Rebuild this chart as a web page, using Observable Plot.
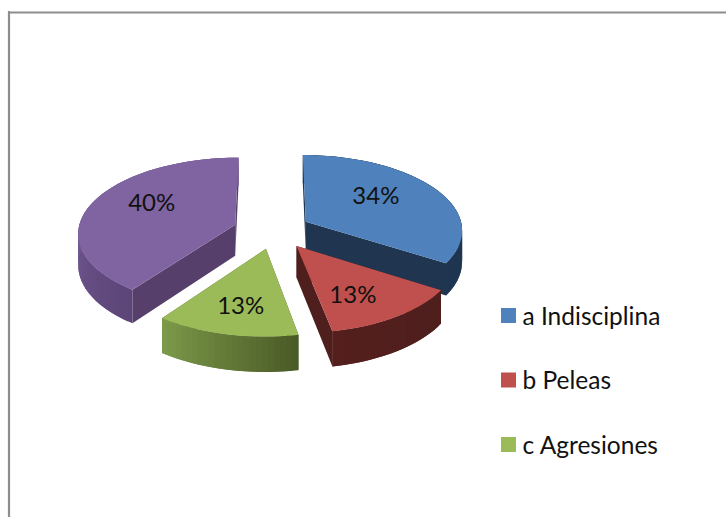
<!DOCTYPE html>
<html>
<head>
<meta charset="utf-8">
<script src="https://cdn.jsdelivr.net/npm/d3@7"></script>
<script src="https://cdn.jsdelivr.net/npm/@observablehq/plot@0.6"></script>
<style>
html,body{margin:0;padding:0;background:#fff;overflow:hidden}
svg{display:block}
</style>
</head>
<body>
<div id="chart"></div>
<script>
// Data
const values = [34, 13, 13, 40];
const legendNames = ["a Indisciplina", "b Peleas", "c Agresiones"];

// Styles
const topColors = ["#4f81bd", "#c0504d", "#9bbb59", "#8064a2"];
const innerColors = ["#1f3550", "#4e1f1d", "#4e5d2a", "#573f6c"];
const wallFrom = ["#1f3550", "#4e1f1d", "#4b5b27", "#5c4577"];
const wallTo = ["#1f3550", "#541f1d", "#7e9c4b", "#715791"];
const font = "Lato, 'Open Sans', sans-serif";

// Projection of the tilted disc
const W = 726, H = 517;
const cx = 272, cy = 230, rx = 157, ry = 75, persp = 0.10, depth = 31, explode = 0.245;
const sliceShiftX = [0, 2, 2, -1];
const labelR = [0.55, 0.68, 0.68, 0.62], labelDy = [-7, 3, 1, -8], labelDx = [-2, -8, 3, 5];

function project(U, V, down = 0) {
  const s = 1 / (1 + persp * V);
  return {x: cx + rx * U * s, y: cy - ry * V * s + down * s};
}

const slices = d3.pie().sort(null)(values);
const polys = [];
let pid = 0;
function addPoly(pts, color, shift) {
  const id = pid++;
  for (const p of pts) polys.push({x: p.x + shift, y: p.y, id, color});
}

const labelPoints = [];
// paint back to front: blue, purple, red, green
const drawOrder = [0, 3, 1, 2];
for (const i of drawOrder) {
  const sl = slices[i];
  const mid = (sl.startAngle + sl.endAngle) / 2;
  const ox = explode * Math.sin(mid), oy = explode * Math.cos(mid);
  const pt = (a, r, d = 0) => project(ox + r * Math.sin(a), oy + r * Math.cos(a), d);
  const sx = sliceShiftX[i];
  // radial walls
  for (const a of [sl.startAngle, sl.endAngle]) {
    addPoly([pt(a, 0), pt(a, 1), pt(a, 1, depth), pt(a, 0, depth)], innerColors[i], sx);
  }
  // outer wall, in small shaded overlapping segments
  const span = sl.endAngle - sl.startAngle;
  const n = Math.max(4, Math.ceil(span / (Math.PI / 90)));
  const f0 = Math.max(sl.startAngle, Math.PI / 2), f1 = Math.min(sl.endAngle, 1.5 * Math.PI);
  const shade = d3.interpolateRgb(wallFrom[i], wallTo[i]);
  for (let k = 0; k < n; k++) {
    const a0 = sl.startAngle + span * k / n;
    const a1 = Math.min(sl.endAngle, sl.startAngle + span * (k + 2) / n);
    const t = Math.max(0, Math.min(1, (a0 - f0) / Math.max(1e-6, f1 - f0)));
    addPoly([pt(a0, 1), pt(a1, 1), pt(a1, 1, depth), pt(a0, 1, depth)], shade(t), sx);
  }
  // top face
  const arc = [pt(sl.startAngle, 0)];
  for (let k = 0; k <= n; k++) arc.push(pt(sl.startAngle + span * k / n, 1));
  addPoly(arc, topColors[i], sx);
  // label anchor
  const lp = pt(mid, labelR[i]);
  labelPoints.push({x: lp.x + labelDx[i], y: lp.y + labelDy[i], text: values[i] + "%"});
}

// Legend layout
const legendX = 501, legendTop = 308, legendStep = 64.5, swatch = 15, legendTextX = 522;
const legendRows = legendNames.map((name, i) => ({
  name, color: topColors[i],
  x1: legendX, x2: legendX + swatch,
  y1: legendTop + i * legendStep, y2: legendTop + i * legendStep + swatch,
  ty: legendTop + i * legendStep + swatch / 2 + 1
}));

const chart = Plot.plot({
  width: W, height: H,
  margin: 0,
  x: {domain: [0, W], range: [0, W], axis: null},
  y: {domain: [0, H], range: [0, H], axis: null},
  color: {type: "identity"},
  style: {background: "#fff"},
  marks: [
    Plot.ruleX([8.5], {y1: 11, y2: H, stroke: "#8e8e8e", strokeWidth: 2.2}),
    Plot.ruleY([12], {x1: 8, x2: W, stroke: "#8e8e8e", strokeWidth: 2}),
    Plot.line(polys, {x: "x", y: "y", z: "id", fill: "color", stroke: "none", curve: "linear"}),
    Plot.text(labelPoints, {x: "x", y: "y", text: "text", fill: "#111", fontFamily: font, fontSize: 24}),
    Plot.rect(legendRows, {x1: "x1", x2: "x2", y1: "y1", y2: "y2", fill: "color"}),
    Plot.text(legendRows, {x: () => legendTextX, y: "ty", text: "name", textAnchor: "start", fill: "#111", fontFamily: font, fontSize: 24.5})
  ]
});
document.getElementById("chart").appendChild(chart);
</script>
</body>
</html>
